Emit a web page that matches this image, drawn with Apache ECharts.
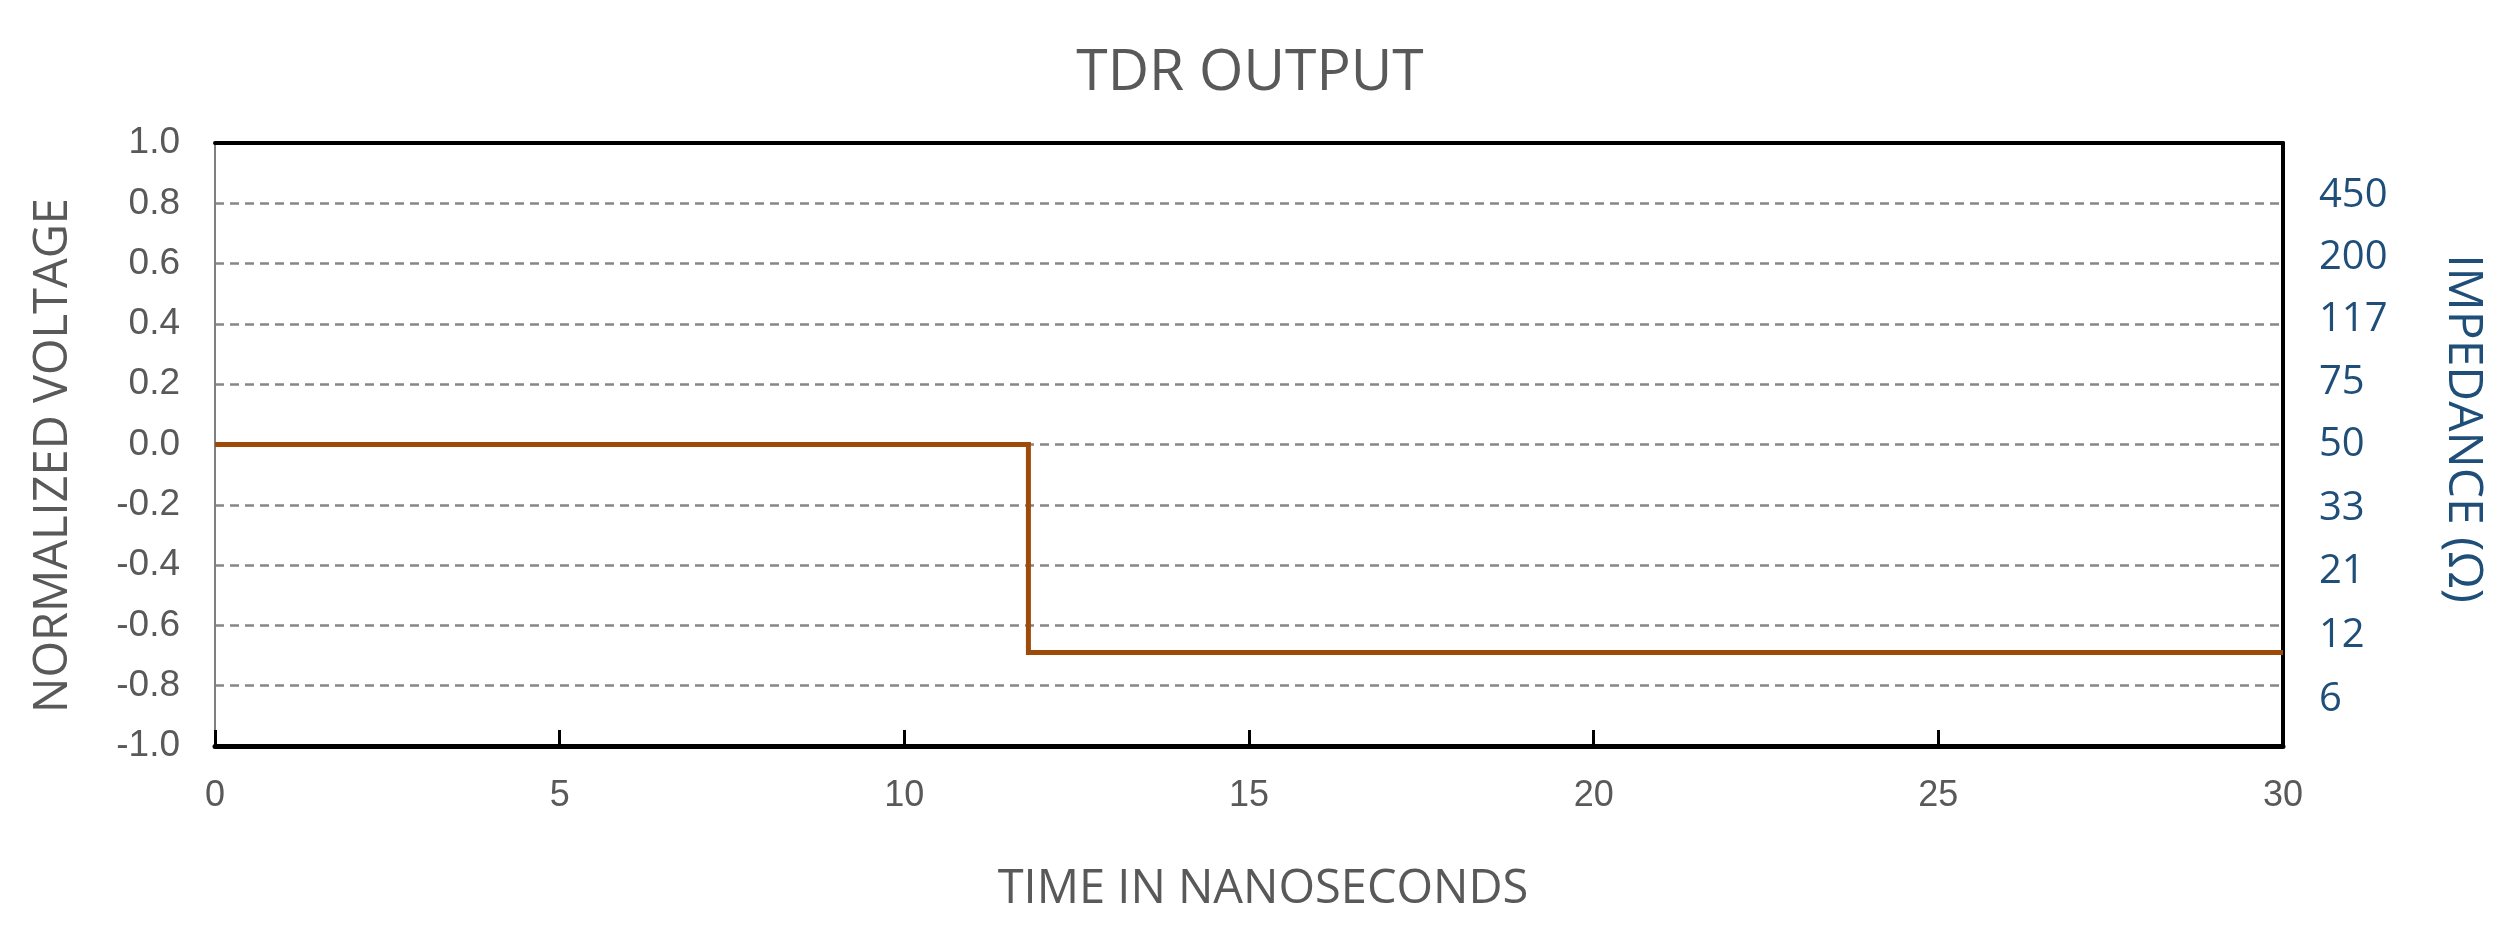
<!DOCTYPE html>
<html>
<head>
<meta charset="utf-8">
<script src="https://cdn.jsdelivr.net/npm/echarts@6/dist/echarts.min.js"></script>
<style>html,body{margin:0;padding:0;background:#fff;}#c{width:2500px;height:928px;}</style>
</head>
<body>
<div id="c"></div>
<script>
var timeNs = [0, 11.8, 11.8, 30];
var voltage = [0, 0, -0.69, -0.69];
var xTicks = [0, 5, 10, 15, 20, 25, 30];
var voltageTicks = [-1.0, -0.8, -0.6, -0.4, -0.2, 0.0, 0.2, 0.4, 0.6, 0.8, 1.0];
var impedanceLabels = ['', '6', '12', '21', '33', '50', '75', '117', '200', '450', ''];

var points = timeNs.map(function (t, i) { return [t, voltage[i]]; });
var grey = '#595959';
var blue = '#1F4E79';

function labelPad(v) { return v >= 0 ? Math.round(v * 20) : -Math.round(-v * 35); }
function padKey(p) { return p >= 0 ? 'u' + p : 'd' + (-p); }
function impLabel(v) {
  var i = Math.round((v + 1) / 0.2);
  var s = impedanceLabels[i] || '';
  if (!s) return '';
  return '{' + padKey(labelPad(v)) + '|' + s + '}';
}
var impRich = {};
voltageTicks.forEach(function (v) {
  var p = labelPad(v);
  impRich[padKey(p)] = {
    fontFamily: 'Open Sans', fontSize: 40, color: blue,
    padding: p >= 0 ? [0, 0, p, 0] : [-p, 0, 0, 0]
  };
});

var chart = echarts.init(document.getElementById('c'));
chart.setOption({
  backgroundColor: '#fff',
  animation: false,
  title: {
    text: 'TDR OUTPUT', left: 'center', top: 40,
    textStyle: { fontFamily: 'Open Sans', fontWeight: 'normal', fontSize: 57, color: grey }
  },
  grid: { left: 215, right: 217, top: 143, bottom: 182 },
  xAxis: [{
    type: 'value', min: 0, max: 30, interval: 5,
    name: 'TIME IN NANOSECONDS', nameLocation: 'middle', nameGap: 120,
    nameTextStyle: { fontFamily: 'Open Sans', fontSize: 47, color: grey, padding: [0, 0, 0, 28] },
    axisLine: { show: true, onZero: false, lineStyle: { color: '#000', width: 5 } },
    axisTick: { show: true, inside: true, length: 16, lineStyle: { color: '#000', width: 3 } },
    axisLabel: { margin: 32, fontFamily: 'Liberation Sans', fontSize: 36, color: grey },
    splitLine: { show: false }
  }, {
    type: 'value', min: 0, max: 30, position: 'top',
    axisLine: { show: true, onZero: false, lineStyle: { color: '#000', width: 4 } },
    axisTick: { show: false }, axisLabel: { show: false }, splitLine: { show: false }
  }],
  yAxis: [{
    type: 'value', min: -1, max: 1, interval: 0.2, position: 'left',
    name: 'NORMALIZED VOLTAGE', nameLocation: 'middle', nameGap: 138, nameRotate: 90,
    nameTextStyle: { fontFamily: 'Open Sans', fontSize: 47, color: grey, padding: [0, 22, 0, 0] },
    axisLine: { show: true, onZero: false, lineStyle: { color: '#7f7f7f', width: 2 } },
    axisTick: { show: false },
    axisLabel: { margin: 35, fontFamily: 'Liberation Sans', fontSize: 37, color: grey,
      formatter: function (v) { return (Math.round(v * 10) / 10).toFixed(1); } },
    splitLine: { show: true, lineStyle: { color: '#878787', width: 2.5, type: [9, 6] } }
  }, {
    type: 'value', min: -1, max: 1, interval: 0.2, position: 'right',
    name: 'IMPEDANCE (\u03A9)', nameLocation: 'middle', nameGap: 156, nameRotate: -90,
    nameTextStyle: { fontFamily: 'Open Sans', fontSize: 48, color: blue, padding: [0, 32, 0, 0] },
    axisLine: { show: true, onZero: false, lineStyle: { color: '#000', width: 4 } },
    axisTick: { show: false },
    axisLabel: { margin: 36, fontFamily: 'Open Sans', fontSize: 40, color: blue,
      formatter: impLabel, rich: impRich },
    splitLine: { show: false }
  }],
  series: [{
    type: 'line', xAxisIndex: 0, yAxisIndex: 0, data: points,
    showSymbol: false, symbol: 'none',
    lineStyle: { color: '#9E4A08', width: 5, join: 'miter' }
  }]
});
</script>
</body>
</html>
